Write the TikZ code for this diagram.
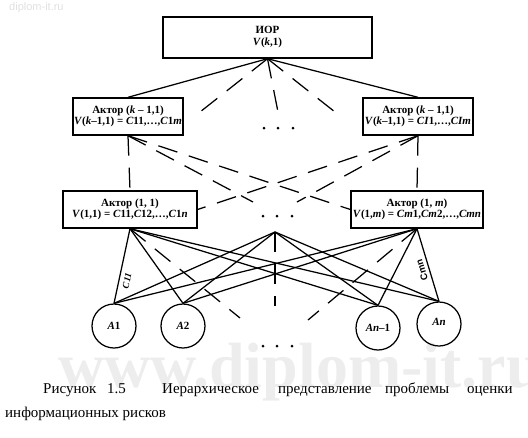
\documentclass[tikz,border=0pt]{standalone}
\usepackage{fontspec}
\setmainfont{Liberation Serif}
\setsansfont{Liberation Sans}
\begin{document}
\begin{tikzpicture}[x=1pt,y=-1pt,
  txt/.style={font=\fontsize{11}{11.5}\selectfont\bfseries},
  box/.style={draw, line width=1.4pt, inner sep=0pt, align=center, txt},
  ln/.style={line width=1.25pt},
  dl/.style={line width=1.25pt, dash pattern=on 20pt off 12pt},
  circ/.style={draw, circle, line width=1.25pt, minimum size=44pt, inner sep=0pt, txt},
  capt/.style={anchor=base west, inner sep=0pt, font=\fontsize{15}{18}\selectfont},
  dotm/.style={circle, fill, inner sep=0pt, minimum size=3pt}]
\useasboundingbox (0,0) rectangle (528,437);
% watermark
\node[inner sep=0pt, text=black!7, font=\fontsize{64}{64}\selectfont\bfseries] (wm) at (300,372) {www.diplom-it.ru};
\node[inner sep=0pt, text=black!12, font=\fontsize{11}{11}\selectfont\sffamily, anchor=west] (wm2) at (9,8) {diplom-it.ru};
% boxes
\node[box, minimum width=209pt, minimum height=41pt, font=\fontsize{11}{12}\selectfont\bfseries] (top) at (267.5,37.5) {ИОР\\\textit{V}(\textit{k},1)};
\node[box, minimum width=110pt, minimum height=37pt] (ul) at (128,116.5) {Актор (\textit{k} – 1,1)\\\textit{V}(\textit{k}–1,1) = \textit{C}11,…,\textit{C}1\textit{m}};
\node[box, minimum width=110pt, minimum height=37pt] (ur) at (418,116.5) {Актор (\textit{k} – 1,1)\\\textit{V}(\textit{k}–1,1) = \textit{CI}1,…,\textit{CIm}};
\node[box, minimum width=134pt, minimum height=37pt] (ml) at (130,209.5) {Актор (1, 1)\\\textit{V}(1,1) = \textit{C}11,\textit{C}12,…,\textit{C}1\textit{n}};
\node[box, minimum width=132pt, minimum height=37pt] (mr) at (417,209.5) {Актор (1, \textit{m})\\\textit{V}(1,\textit{m}) = \textit{Cm}1,\textit{Cm}2,…,\textit{Cmn}};
% circles
\node[circ] (a1) at (114,326) {\textit{A}1};
\node[circ] (a2) at (183,326) {\textit{A}2};
\node[circ] (an1) at (378,328) {\textit{An}–1};
\node[circ] (an) at (439,324) {\raisebox{4pt}{\textit{An}}};
% dots
\foreach \x in {264,278,293} {
  \node[dotm] at (\x,128) {};
  \node[dotm] at (\x-1,216) {};
  \node[dotm] at (\x-1,346) {};
}
% top level
\draw[ln] (top.south) -- (ul.north);
\draw[ln] (top.south) -- (ur.north);
\coordinate (t1) at (200,112);
\coordinate (t2) at (278,112);
\coordinate (t3) at (335,112);
\foreach \t in {t1,t2,t3} \draw[dl] (top.south) -- (\t);
% middle level
\draw[dl] (ul.south) -- (ml.north);
\draw[dl] (ur.south) -- (mr.north);
\draw[dl] (ul.south) -- (mr.west);
\draw[dl] (ur.south) -- (ml.east);
\coordinate (c1) at (253,202);
\coordinate (c2) at (297,202);
\draw[dl] (ul.south) -- (c1);
\draw[dl] (ur.south) -- (c2);
% bottom level
\coordinate (M) at (275,232);
\foreach \a in {a1,a2,an1,an} {
  \draw[ln] (ml.south) -- (\a.north);
  \draw[ln] (M) -- (\a.north);
  \draw[ln] (mr.south) -- (\a.north);
}
\coordinate (e1) at (240,318);
\coordinate (e2) at (308,320);
\coordinate (e3) at (275,306);
\draw[dl] (ml.south) -- (e1);
\draw[dl] (mr.south) -- (e2);
\draw[dl] (M) -- (e3);
\node[font=\fontsize{9.5}{9.5}\selectfont\bfseries\itshape, rotate=78, inner sep=1pt] (lc) at (127,281) {C11};
\node[font=\fontsize{9.5}{9.5}\selectfont\bfseries\sffamily, rotate=107, inner sep=1pt] (lm) at (422,270) {Cmn};
% caption
\node[capt] (w1) at (43,393) {Рисунок};
\node[capt] (w2) at (107,393) {1.5};
\node[capt] (w3) at (162,393) {Иерархическое};
\node[capt] (w4) at (278,393) {представление};
\node[capt] (w5) at (385,393) {проблемы};
\node[capt] (w6) at (467,393) {оценки};
\node[capt] (w7) at (5,417) {информационных рисков};
\end{tikzpicture}
\end{document}
